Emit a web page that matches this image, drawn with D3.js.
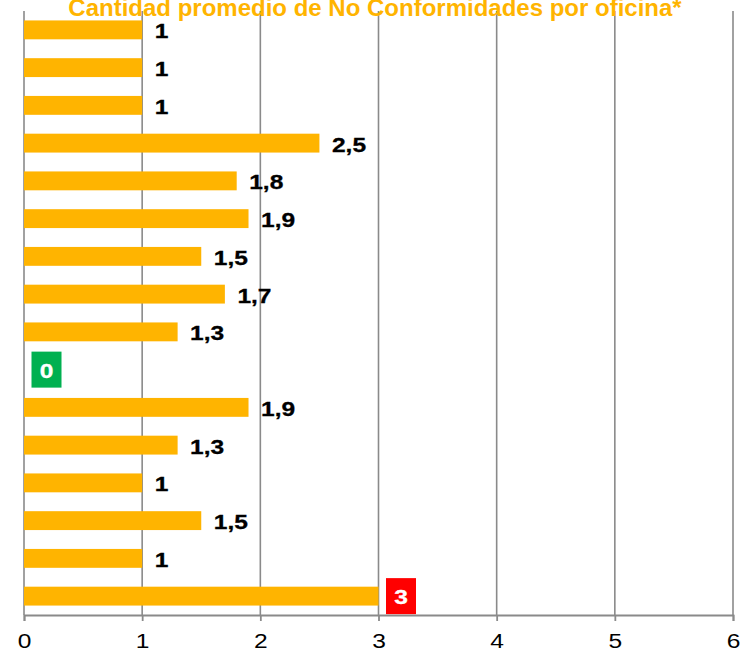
<!DOCTYPE html>
<html lang="es">
<head>
<meta charset="UTF-8">
<title>Cantidad promedio de No Conformidades por oficina</title>
<script src="https://cdnjs.cloudflare.com/ajax/libs/d3/7.8.5/d3.min.js"></script>
<style>
  body { margin: 0; background: #fff; }
  svg { display: block; font-family: "Liberation Sans", Arial, sans-serif; }
  .grid line { stroke: #8a8a8a; stroke-width: 1.6px; }
  .x-axis path, .x-axis line { stroke: #8a8a8a; stroke-width: 1.8px; }
</style>
</head>
<body>
<div id="chart"></div>
<script>

    // data, top bar first
    var oficinas = ["1", "2", "3", "4", "5", "6", "7", "8",
        "9", "10", "11", "12", "13", "14", "15", "16"];
    var promedio = [1, 1, 1, 2.5, 1.8, 1.9, 1.5, 1.7,
        1.3, 0, 1.9, 1.3, 1, 1.5, 1, 3];
    var ticksX = [0, 1, 2, 3, 4, 5, 6];
    var titulo = "Cantidad promedio de No Conformidades por oficina*";

    var width = 740,
        height = 649;
    var margin = {top: 11, right: 7, bottom: 34, left: 24};
    var stretch = 1.17;   // labels in the picture are wider than normal type

    var naranja = "#ffb400",
        verde = "#00b050",
        rojo = "#ff0000";

    var data = oficinas.map(function(o, i) {
        return {oficina: o, valor: promedio[i]};
    });
    var maximo = d3.max(promedio);

    function destacado(d) {
        return d.valor === 0 || d.valor === maximo;
    }

    var es = d3.formatLocale({decimal: ",", thousands: ".", grouping: [3], currency: ["", " €"]});
    var fmt = es.format("~g");

    var svg = d3.select("#chart")
        .append("svg")
        .attr("width", width)
        .attr("height", height);

    var x = d3.scaleLinear()
        .domain([0, 6])
        .range([margin.left, width - margin.right]);

    var y = d3.scaleBand()
        .domain(oficinas)
        .range([margin.top, height - margin.bottom])
        .paddingInner(0.5)
        .paddingOuter(0.25);

    var bottom = height - margin.bottom;

    // vertical gridlines
    svg.append("g")
        .attr("class", "grid")
        .selectAll("line")
        .data(ticksX)
        .enter()
        .append("line")
        .attr("x1", function(d) { return x(d); })
        .attr("x2", function(d) { return x(d); })
        .attr("y1", margin.top)
        .attr("y2", bottom);

    // bars
    svg.append("g")
        .selectAll("rect")
        .data(data)
        .enter()
        .append("rect")
        .attr("x", x(0))
        .attr("y", function(d) { return y(d.oficina); })
        .attr("width", function(d) { return x(d.valor) - x(0); })
        .attr("height", y.bandwidth())
        .attr("fill", naranja);

    // x axis
    var axis = svg.append("g")
        .attr("class", "x-axis")
        .attr("transform", "translate(0," + bottom + ")")
        .call(d3.axisBottom(x)
            .tickValues(ticksX)
            .tickFormat(d3.format("d"))
            .tickSize(6)
            .tickSizeOuter(6));

    axis.selectAll("text")
        .attr("y", null)
        .attr("dy", null)
        .attr("transform", "translate(0,33) scale(" + stretch + ",1)")
        .style("font-family", "'Liberation Sans', Arial, sans-serif")
        .style("font-size", "21px")
        .attr("fill", "#000");

    // value labels
    var etiquetas = svg.append("g")
        .selectAll("g")
        .data(data)
        .enter()
        .append("g")
        .attr("transform", function(d) {
            return "translate(" + x(d.valor) + "," + (y(d.oficina) + y.bandwidth() / 2) + ")";
        });

    etiquetas.filter(destacado)
        .append("rect")
        .attr("x", 7.5)
        .attr("y", -18)
        .attr("width", 30)
        .attr("height", 36)
        .attr("fill", function(d) { return d.valor === 0 ? verde : rojo; });

    etiquetas.append("text")
        .attr("transform", function(d) {
            return destacado(d) ? "translate(22.5,8) scale(" + stretch + ",1)"
                                : "translate(12.5,8.5) scale(" + stretch + ",1)";
        })
        .attr("text-anchor", function(d) { return destacado(d) ? "middle" : "start"; })
        .style("font-size", "21px")
        .style("font-weight", "bold")
        .attr("fill", function(d) { return destacado(d) ? "#fff" : "#000"; })
        .attr("stroke", function(d) { return destacado(d) ? "#fff" : "#000"; })
        .attr("stroke-width", 0.3)
        .text(function(d) { return fmt(d.valor); });

    // title, mostly cut off at the top of the picture
    svg.append("text")
        .attr("x", 375)
        .attr("y", 16)
        .attr("text-anchor", "middle")
        .style("font-size", "24px")
        .style("font-weight", "bold")
        .attr("fill", naranja)
        .text(titulo);

</script>
</body>
</html>
